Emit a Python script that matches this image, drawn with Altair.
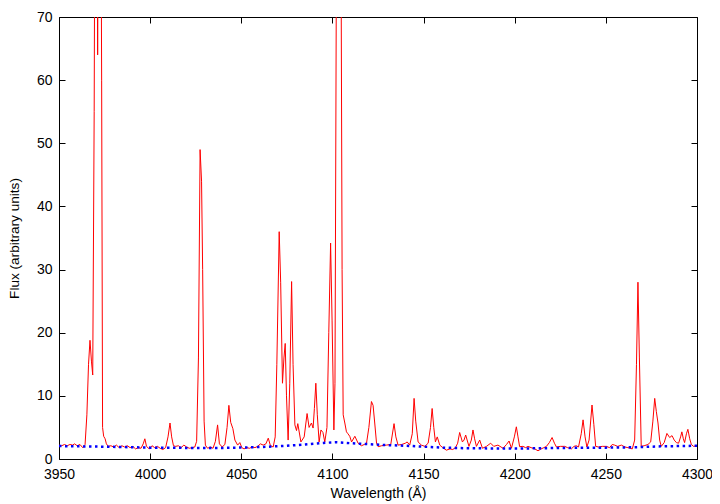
import altair as alt
import pandas as pd

wavelength = [
    3950, 3951.5, 3953, 3954.5, 3956, 3957.5, 3958.5, 3960, 3961.5, 3963,
    3964.3, 3965.3, 3966.2, 3967.0, 3967.8, 3968.5, 3969.3, 3969.9, 3970.8, 3971.2,
    3971.6, 3972.6, 3973.4, 3973.9, 3974.5, 3975.3, 3976, 3977, 3978.5, 3980,
    3981.5, 3983, 3984.5, 3986, 3987.5, 3989, 3990.5, 3992, 3993.5, 3995,
    3996.2, 3997.1, 3998, 3999.5, 4001, 4002.5, 4004, 4005.5, 4007, 4008.5,
    4009.8, 4010.9, 4011.8, 4012.8, 4014, 4015.5, 4017, 4018.5, 4020, 4021.5,
    4023, 4024.5, 4025.5, 4026.5, 4027.4, 4028.2, 4028.8, 4029.6, 4030.3, 4031.5,
    4033, 4034.5, 4035.8, 4037.0, 4038.0, 4039.5, 4041, 4042.2, 4043.2, 4044.2,
    4045.4, 4046.5, 4048, 4049.2, 4050.3, 4051.5, 4053, 4054.5, 4056, 4057.5,
    4059, 4060.5, 4062, 4063.5, 4064.8, 4066, 4067.5, 4068.6, 4069.5, 4070.8,
    4071.6, 4072.6, 4073.4, 4074.1, 4074.8, 4075.7, 4076.6, 4077.6, 4078.4, 4079.4,
    4080.3, 4081, 4082.7, 4084.5, 4086.1, 4087.2, 4088.5, 4089.4, 4090.1, 4090.9,
    4091.7, 4092.7, 4093.7, 4094.8, 4095.8, 4097, 4098, 4099, 4099.8, 4100.8,
    4101.4, 4102.2, 4103.2, 4104.5, 4105.3, 4105.9, 4106.8, 4107.7, 4108.5, 4109.5,
    4110.5, 4112.3, 4114.1, 4115.9, 4117.5, 4118.7, 4120, 4121.4, 4122.3, 4123.2,
    4124.2, 4125.1, 4127, 4129.6, 4132, 4133.8, 4134.8, 4136, 4138, 4140,
    4141, 4142.4, 4143.8, 4144.8, 4145.7, 4147, 4148.8, 4150.7, 4152.5, 4153.8,
    4154.7, 4155.6, 4156.5, 4157.5, 4158.9, 4160.5, 4162.5, 4164.5, 4166, 4167.5,
    4168.7, 4169.8, 4171.3, 4172.2, 4173.1, 4174.9, 4176.2, 4177.1, 4178, 4179,
    4180.8, 4182.3, 4184.5, 4186.8, 4188.5, 4190.8, 4192.5, 4193.6, 4195.5, 4196.9,
    4198.2, 4199.8, 4200.9, 4201.8, 4202.7, 4204.5, 4206, 4207.3, 4209, 4211,
    4212.8, 4214.5, 4216, 4217.4, 4219, 4220.5, 4221.8, 4222.9, 4225, 4227.4,
    4229, 4231.1, 4232.5, 4233.8, 4235, 4236.5, 4237.5, 4238.6, 4239.6, 4240.8,
    4242.4, 4243.4, 4244.4, 4246, 4248, 4250.3, 4252, 4253.5, 4254.8, 4256.5,
    4258.5, 4260.5, 4262.1, 4264.5, 4265.8, 4266.8, 4267.6, 4268.4, 4269.4, 4271,
    4273.1, 4274.6, 4275.8, 4276.8, 4277.7, 4278.6, 4279.5, 4280.4, 4282, 4283.5,
    4285, 4286.3, 4287.5, 4288.7, 4289.9, 4291, 4291.7, 4292.5, 4293.2, 4294.2,
    4295, 4296, 4296.9, 4298.1, 4300,
]
flux = [
    2.2, 2.1, 2.3, 2.1, 2.3, 2.2, 2.4, 2.1, 2.3, 1.8,
    2.3, 7.0, 15, 18.8, 15.5, 13.3, 55, 110, 90, 64,
    90, 120, 60, 5, 3.6, 3.2, 2.4, 2.0, 2.1, 1.9,
    2.2, 1.8, 2.1, 1.9, 2.1, 1.8, 2.0, 1.6, 1.8, 1.7,
    2.4, 3.2, 2.0, 1.6, 2.1, 1.8, 2.0, 1.7, 1.5, 1.8,
    3.5, 5.7, 3.5, 2.1, 2.0, 2.1, 1.8, 2.2, 1.9, 1.7,
    1.8, 1.9, 2.8, 16, 49, 44, 30, 6, 2.2, 1.7,
    1.9, 1.7, 2.8, 5.4, 2.4, 1.9, 2.3, 5, 8.5, 5.8,
    4.8, 3.0, 2.2, 2.6, 1.8, 1.6, 1.8, 1.7, 1.9, 1.8,
    2.0, 2.4, 2.2, 2.4, 3.3, 2.1, 1.9, 3.5, 15, 36,
    28, 12, 16, 18.3, 10, 3.0, 12, 28.1, 15, 5.4,
    4.5, 5.6, 2.7, 3.5, 7.2, 5.0, 5.7, 4.9, 8, 12.0,
    7, 2.7, 4.6, 4.2, 2.7, 5, 20, 34.2, 22, 4.6,
    12, 80, 120, 100, 30, 7, 5.7, 4.3, 4.0, 3.6,
    2.7, 3.6, 2.5, 2.1, 2.3, 2.5, 5, 9.1, 8.5, 5.7,
    2.5, 1.95, 2.1, 2.2, 2.3, 5.6, 3.5, 2.2, 2.3, 2.5,
    2.7, 2.2, 4, 9.6, 6, 2.7, 2.2, 2.0, 2.5, 5,
    8.0, 5, 2.7, 3.5, 2.2, 1.8, 1.4, 1.6, 1.5, 1.8,
    2.5, 4.2, 2.7, 3.0, 3.8, 2.0, 3.0, 4.6, 3.2, 2.0,
    3.0, 1.7, 2.0, 2.5, 2.0, 2.2, 1.9, 1.7, 2.3, 2.85,
    1.7, 3.5, 5.1, 3.5, 1.95, 2.0, 1.8, 2.0, 1.8, 1.6,
    1.3, 1.6, 1.8, 2.0, 2.6, 3.4, 2.5, 1.9, 2.0, 2.0,
    1.8, 1.6, 2.0, 2.1, 1.9, 4, 6.2, 3.5, 1.9, 3,
    8.55, 5.5, 2.0, 1.9, 2.0, 2.0, 1.8, 2.3, 2.2, 2.0,
    2.2, 1.9, 1.8, 1.6, 3, 15, 28, 16, 2.0, 2.1,
    2.3, 2.7, 6, 9.6, 7.5, 5.7, 3.0, 2.0, 2.6, 4.05,
    3.4, 3.7, 3.0, 2.6, 2.5, 3.5, 4.3, 3.2, 2.6, 4.0,
    4.7, 3.2, 2.3, 2.0, 2.1,
]

# Continuum (blue dotted)
cont_wavelength = [3950, 3975, 4000, 4025, 4040, 4055, 4065, 4075, 4085, 4095,
                   4102, 4110, 4120, 4130, 4140, 4150, 4160, 4175, 4200, 4225,
                   4250, 4265, 4280, 4300]
cont_flux = [2.05, 1.95, 1.8, 1.75, 1.75, 1.85, 1.95, 2.1, 2.3, 2.55,
             2.65, 2.5, 2.35, 2.2, 2.1, 1.95, 1.8, 1.7, 1.65, 1.75,
             1.8, 1.85, 2.0, 2.1]

x_ticks = [3950, 4000, 4050, 4100, 4150, 4200, 4250, 4300]
y_ticks = [0, 10, 20, 30, 40, 50, 60, 70]

spec = pd.DataFrame({"wl": wavelength, "flux": flux})
cont = pd.DataFrame({"wl": cont_wavelength, "flux": cont_flux})

FONT = "Liberation Sans"
W, H = 638, 442

xscale = alt.Scale(domain=[3950, 4300], nice=False, zero=False)
yscale = alt.Scale(domain=[0, 70], nice=False)

ax_bottom = alt.Axis(orient="bottom", values=x_ticks, format="d", ticks=False, tickSize=0,
                     domain=False, grid=False, labelFont=FONT, labelFontSize=14,
                     labelColor="black", labelPadding=8, labelFlush=False,
                     labelOverlap=False, title="Wavelength (Å)", titleFont=FONT,
                     titleFontSize=14, titleFontWeight="normal", titleColor="black",
                     titleX=W / 2, titleY=38, titleAlign="center",
                     titleBaseline="alphabetic")
ax_left = alt.Axis(orient="left", values=y_ticks, format="d", ticks=False, tickSize=0,
                   domain=False, grid=False, labelFont=FONT, labelFontSize=14,
                   labelColor="black", labelPadding=7, labelOverlap=False,
                   title="Flux (arbitrary units)", titleFont=FONT, titleFontSize=13.6,
                   titleFontWeight="normal", titleColor="black", titleX=-45,
                   titleY=H / 2, titleAngle=270, titleAlign="center",
                   titleBaseline="middle")

def tick_axis(orient, values):
    return alt.Axis(orient=orient, values=values, offset=-6, tickSize=6, ticks=True,
                    tickColor="black", tickWidth=1, labels=False, domain=False,
                    grid=False, title=None)

red = alt.Chart(spec).mark_line(color="#ff0000", strokeWidth=1, clip=True).encode(
    x=alt.X("wl:Q", scale=xscale, axis=ax_bottom),
    y=alt.Y("flux:Q", scale=yscale, axis=ax_left),
)
blue = alt.Chart(cont).mark_line(color="#0000ff", strokeWidth=2.5,
                                 strokeDash=[2.5, 3.5], clip=True).encode(
    x=alt.X("wl:Q", scale=xscale, axis=tick_axis("bottom", x_ticks)),
    y=alt.Y("flux:Q", scale=yscale, axis=tick_axis("left", y_ticks)),
)
ghost = alt.Chart(cont).mark_line(opacity=0, clip=True).encode(
    x=alt.X("wl:Q", scale=xscale, axis=tick_axis("top", x_ticks)),
    y=alt.Y("flux:Q", scale=yscale, axis=tick_axis("right", y_ticks)),
)

chart = alt.layer(red, blue, ghost).resolve_axis(
    x="independent", y="independent"
).properties(
    width=W, height=H,
    autosize=alt.AutoSizeParams(type="none"),
    padding={"left": 51, "top": 9, "right": 15, "bottom": 45},
    background="white",
).configure_view(stroke="black", strokeWidth=1)

chart.save("out.html", embed_options={"renderer": "svg", "actions": False})
